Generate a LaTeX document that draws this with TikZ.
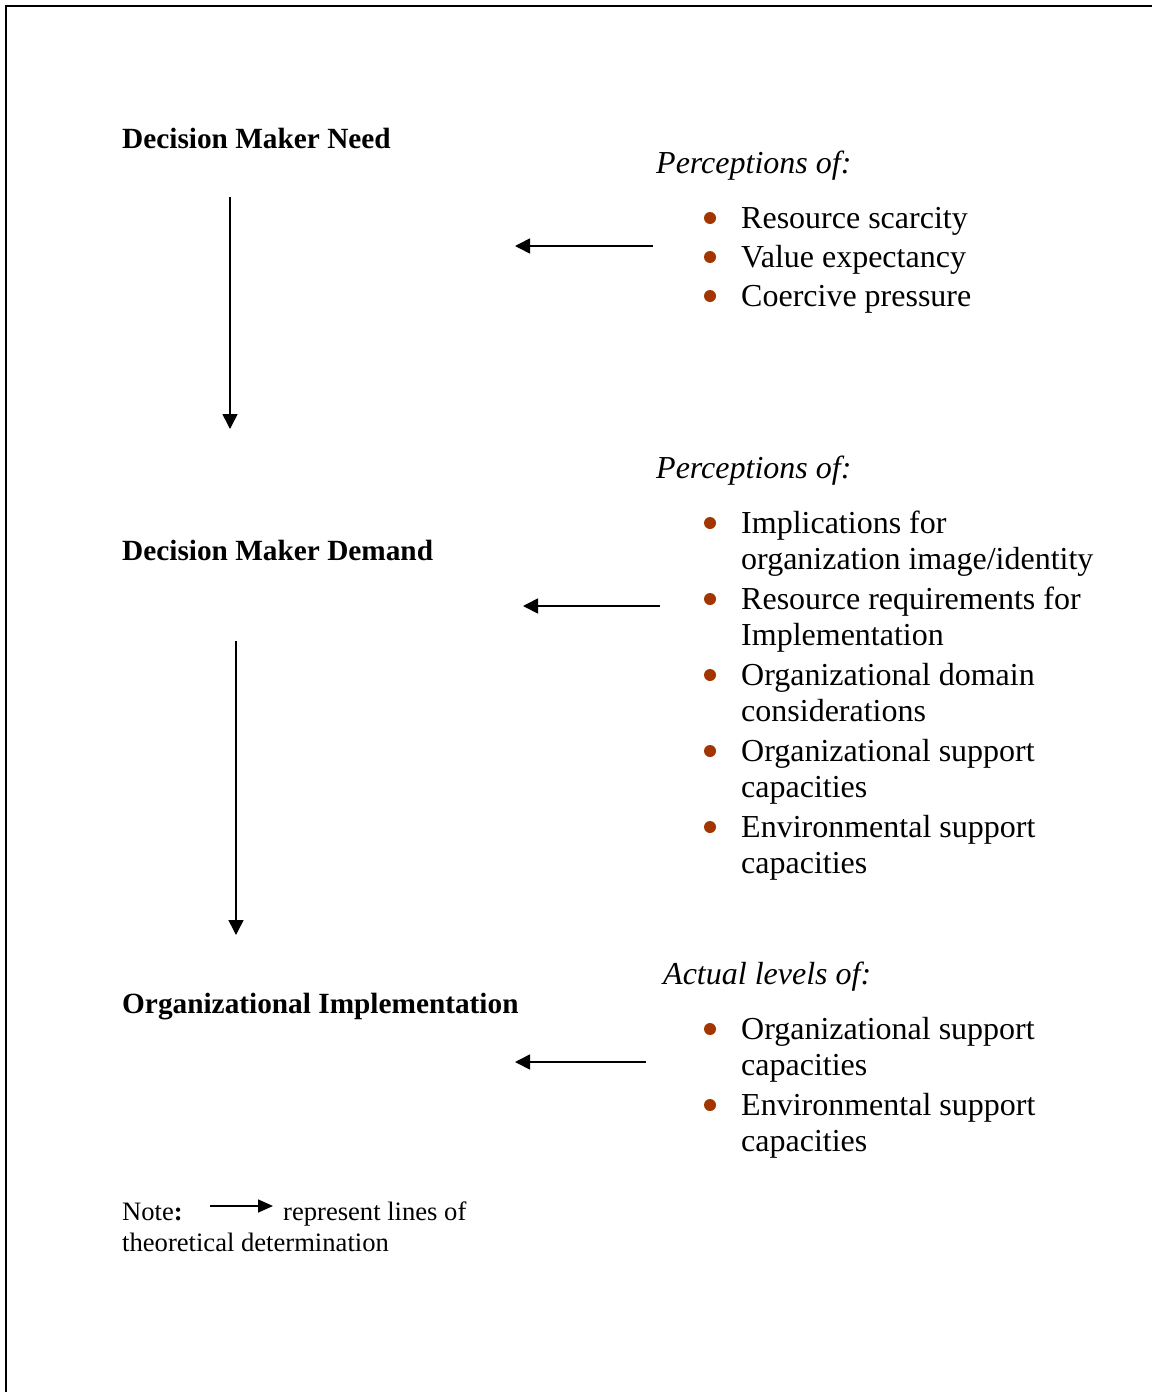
\documentclass[tikz,border=0pt]{standalone}
\usepackage{fontspec}
\setmainfont{Liberation Serif}
\usetikzlibrary{arrows.meta}
\definecolor{bulletc}{HTML}{A33500}
\tikzset{
  heading/.style={anchor=base west, inner sep=0pt, font=\fontsize{29.3}{34}\selectfont\bfseries},
  intro/.style={anchor=base west, inner sep=0pt, font=\fontsize{32}{36}\selectfont\itshape},
  item/.style={anchor=base west, inner sep=0pt, align=left, font=\fontsize{32}{36}\selectfont},
  notetext/.style={anchor=base west, inner sep=0pt, align=left, font=\fontsize{26.6}{31}\selectfont},
  dot/.style={circle, fill=bulletc, inner sep=0pt, minimum size=12pt},
  arr/.style={line width=1.6pt, -{Triangle[length=15pt,width=15pt]}},
  smallarr/.style={line width=1.6pt, -{Triangle[length=15pt,width=13pt]}}
}
\begin{document}
\begin{tikzpicture}[x=1pt,y=-1pt]
\useasboundingbox (0,0) rectangle (1152,1392);
\draw[line width=2.5pt] (6,1392) -- (6,6) -- (1152,6);

% headings
\node[heading] (need) at (122,148) {Decision Maker Need};
\node[heading] (demand) at (122,560) {Decision Maker Demand};
\node[heading] (impl) at (122,1013) {Organizational Implementation};

% intro lines
\node[intro] (p1) at (656,173) {Perceptions of:};
\node[intro] (p2) at (656,478) {Perceptions of:};
\node[intro] (p3) at (663,984) {Actual levels of:};

% list 1
\node[item] (r1) at (741,228) {Resource scarcity};
\node[item] (r2) at (741,267) {Value expectancy};
\node[item] (r3) at (741,306) {Coercive pressure};
\node[dot] (b1) at (710,218) {};
\node[dot] (b2) at (710,257) {};
\node[dot] (b3) at (710,296) {};

% list 2 (anchored at the baseline of the last line)
\node[item] (s1) at (741,569) {Implications for\\organization image/identity};
\node[item] (s2) at (741,645) {Resource requirements for\\Implementation};
\node[item] (s3) at (741,721) {Organizational domain\\considerations};
\node[item] (s4) at (741,797) {Organizational support\\capacities};
\node[item] (s5) at (741,873) {Environmental support\\capacities};
\node[dot] (c1) at (710,523) {};
\node[dot] (c2) at (710,599) {};
\node[dot] (c3) at (710,675) {};
\node[dot] (c4) at (710,751) {};
\node[dot] (c5) at (710,827) {};

% list 3
\node[item] (t1) at (741,1075) {Organizational support\\capacities};
\node[item] (t2) at (741,1151) {Environmental support\\capacities};
\node[dot] (d1) at (710,1029) {};
\node[dot] (d2) at (710,1105) {};

% arrows
\coordinate (h1s) at (653,246); \coordinate (h1e) at (515,246);
\coordinate (h2s) at (660,606); \coordinate (h2e) at (523,606);
\coordinate (h3s) at (646,1062); \coordinate (h3e) at (515,1062);
\coordinate (v1s) at (230,197); \coordinate (v1e) at (230,429);
\coordinate (v2s) at (236,641); \coordinate (v2e) at (236,935);
\draw[arr] (h1s) -- (h1e);
\draw[arr] (h2s) -- (h2e);
\draw[arr] (h3s) -- (h3e);
\draw[arr] (v1s) -- (v1e);
\draw[arr] (v2s) -- (v2e);

% note
\node[notetext] (note) at (122,1220) {Note\textbf{:}};
\coordinate (ns) at (210,1206); \coordinate (ne) at (273,1206);
\draw[smallarr] (ns) -- (ne);
\node[notetext] (note2) at (283,1220) {represent lines of};
\node[notetext] (note3) at (122,1251) {theoretical determination};
\end{tikzpicture}
\end{document}
